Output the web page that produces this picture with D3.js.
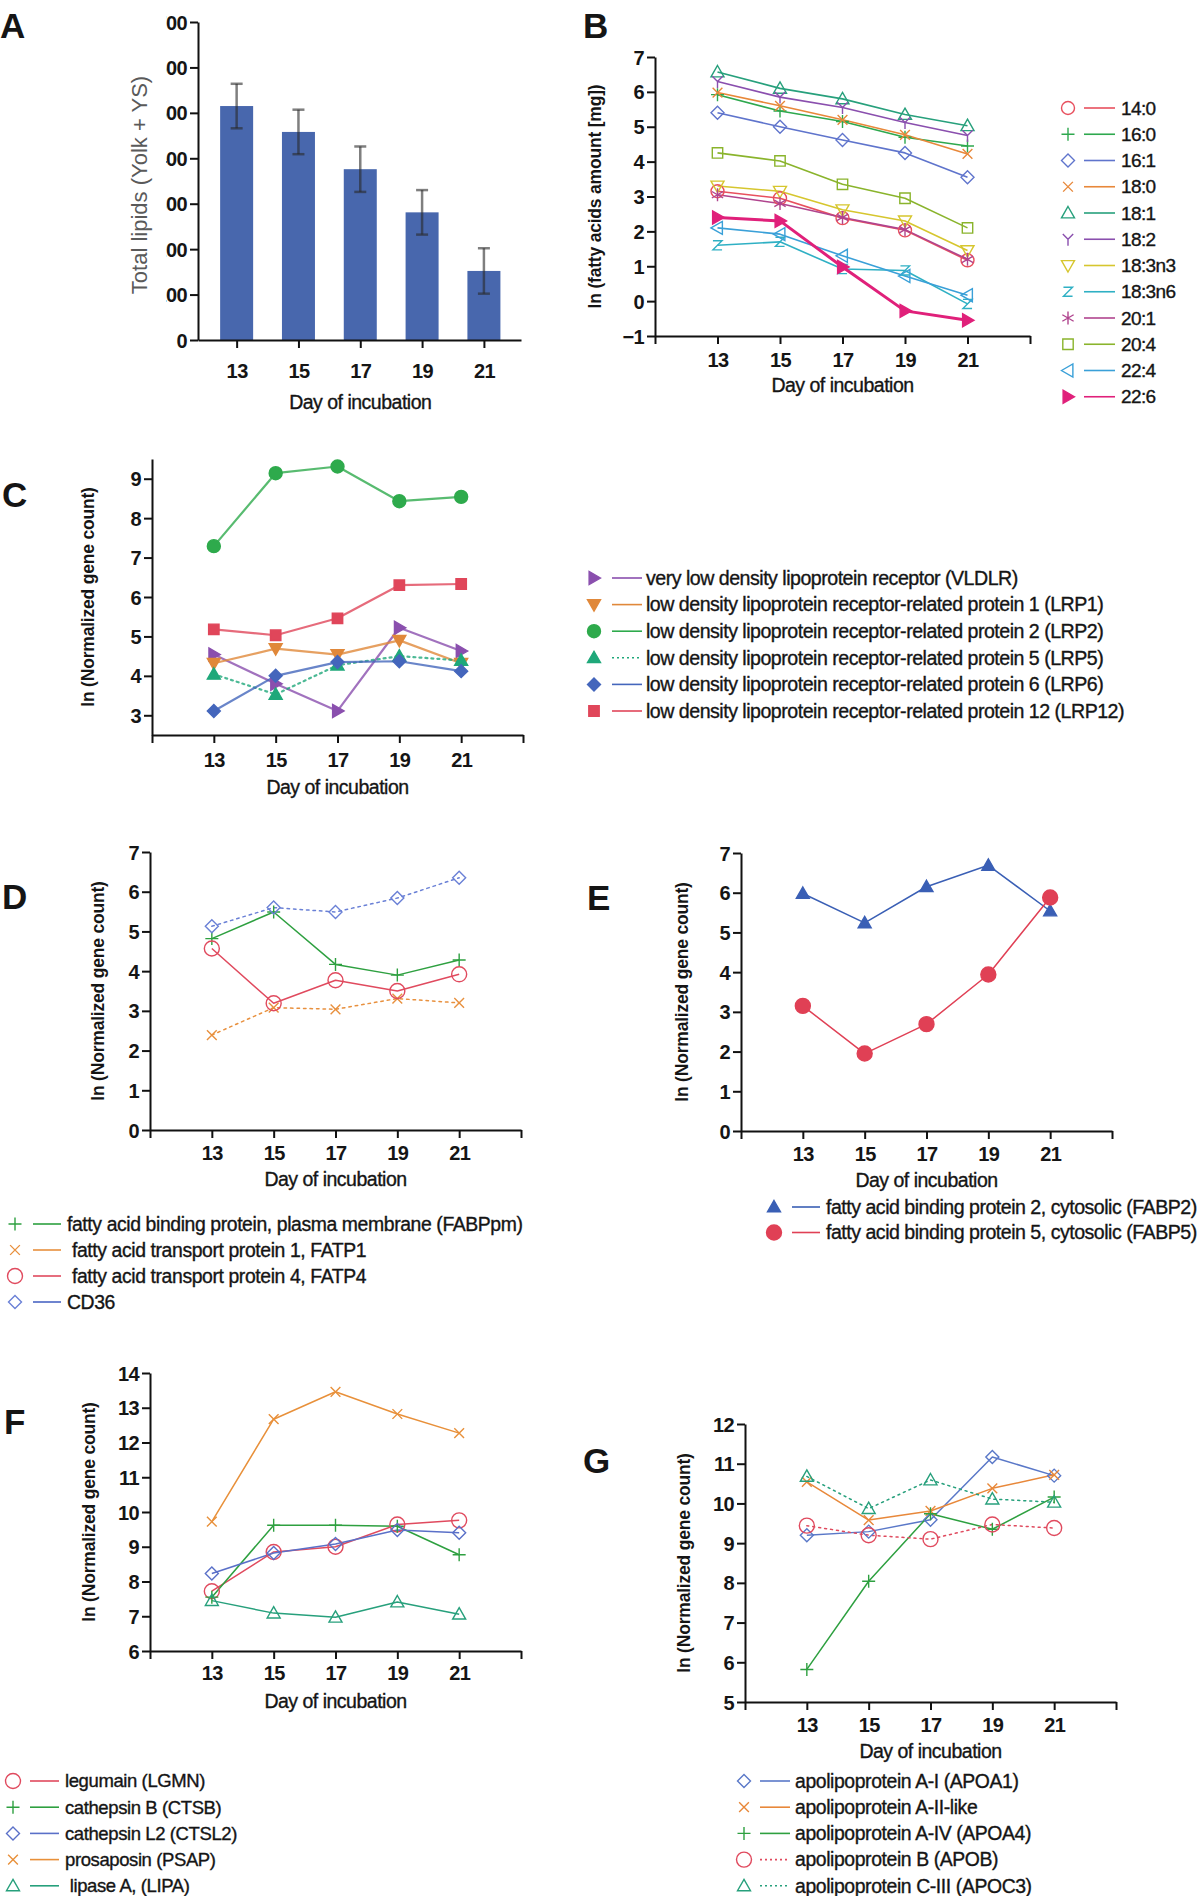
<!DOCTYPE html>
<html>
<head>
<meta charset="utf-8">
<script src="https://cdn.jsdelivr.net/npm/d3@7"></script>
<style>
  body { margin: 0; background: #fff; }
  svg text { font-family: "Liberation Sans", Arial, sans-serif; fill: #151515; }
</style>
</head>
<body>
<svg id="fig" width="1200" height="1896"></svg>
<script>
// ---- data ----
const days = [13, 15, 17, 19, 21];
const dayTicks = [11, 13, 15, 17, 19, 21, 23];

// A: total lipids
const lipidTotals = [515, 458, 376, 281, 152];
const lipidErr = [49, 49, 50, 49, 50];
const lipidTicks = [0, 100, 200, 300, 400, 500, 600, 700];

// B: fatty acids
const faLabels = ["14:0", "16:0", "16:1", "18:0", "18:1", "18:2", "18:3n3", "18:3n6", "20:1", "20:4", "22:4", "22:6"];
const faValues = [
  [3.15, 2.95, 2.38, 2.03, 1.17],
  [5.92, 5.45, 5.15, 4.70, 4.45],
  [5.40, 5.00, 4.62, 4.25, 3.55],
  [5.98, 5.60, 5.20, 4.77, 4.22],
  [6.57, 6.10, 5.80, 5.35, 5.03],
  [6.30, 5.85, 5.55, 5.12, 4.75],
  [3.30, 3.15, 2.62, 2.30, 1.45],
  [1.60, 1.70, 0.92, 0.88, -0.08],
  [3.05, 2.80, 2.40, 2.05, 1.20],
  [4.25, 4.02, 3.35, 2.95, 2.10],
  [2.10, 1.92, 1.30, 0.72, 0.17],
  [2.40, 2.30, 0.98, -0.28, -0.55]
];
const faTicks = [-1, 0, 1, 2, 3, 4, 5, 6, 7];

// C: lipoprotein receptors
const lrpLabels = [
  "very low density lipoprotein receptor (VLDLR)",
  "low density lipoprotein receptor-related protein 1 (LRP1)",
  "low density lipoprotein receptor-related protein 2 (LRP2)",
  "low density lipoprotein receptor-related protein 5 (LRP5)",
  "low density lipoprotein receptor-related protein 6 (LRP6)",
  "low density lipoprotein receptor-related protein 12 (LRP12)"
];
const lrpValues = [
  [4.54, 3.80, 3.11, 5.22, 4.63],
  [4.32, 4.69, 4.54, 4.90, 4.32],
  [7.29, 9.14, 9.31, 8.43, 8.54],
  [4.04, 3.53, 4.27, 4.50, 4.39],
  [3.11, 4.00, 4.35, 4.37, 4.12],
  [5.18, 5.03, 5.46, 6.30, 6.33]
];
const lrpTicks = [3, 4, 5, 6, 7, 8, 9];

// D: transporters
const fatLabels = [
  "fatty acid binding protein, plasma membrane (FABPpm)",
  " fatty acid transport protein 1, FATP1",
  " fatty acid transport protein 4, FATP4",
  "CD36"
];
const fatValues = [
  [4.82, 5.49, 4.17, 3.90, 4.28],
  [2.39, 3.08, 3.04, 3.31, 3.20],
  [4.57, 3.19, 3.77, 3.50, 3.92],
  [5.13, 5.60, 5.49, 5.84, 6.35]
];
const geneTicks07 = [0, 1, 2, 3, 4, 5, 6, 7];

// E: cytosolic FABPs
const fabpLabels = [
  "fatty acid binding protein 2, cytosolic (FABP2)",
  "fatty acid binding protein 5, cytosolic (FABP5)"
];
const fabpValues = [
  [5.98, 5.24, 6.15, 6.69, 5.54],
  [3.15, 1.95, 2.69, 3.94, 5.88]
];

// F: lysosomal
const lysoLabels = ["legumain (LGMN)", "cathepsin B (CTSB)", "cathepsin L2 (CTSL2)", "prosaposin (PSAP)", " lipase A, (LIPA)"];
const lysoValues = [
  [7.72, 8.85, 9.00, 9.64, 9.76],
  [7.55, 9.62, 9.62, 9.59, 8.77],
  [8.23, 8.82, 9.08, 9.48, 9.40],
  [9.72, 12.67, 13.46, 12.82, 12.27],
  [7.45, 7.09, 6.97, 7.41, 7.06]
];
const lysoTicks = [6, 7, 8, 9, 10, 11, 12, 13, 14];

// G: apolipoproteins
const apoLabels = [
  "apolipoprotein A-I (APOA1)",
  "apolipoprotein A-II-like",
  "apolipoprotein A-IV (APOA4)",
  "apolipoprotein B (APOB)",
  "apolipoprotein C-III (APOC3)"
];
const apoValues = [
  [9.20, 9.29, 9.59, 11.17, 10.70],
  [10.54, 9.58, 9.81, 10.38, 10.72],
  [5.82, 8.04, 9.74, 9.35, 10.16],
  [9.44, 9.20, 9.10, 9.47, 9.38],
  [10.68, 9.87, 10.59, 10.11, 10.03]
];
const apoTicks = [5, 6, 7, 8, 9, 10, 11, 12];

// ---- styles ----
const faStyles = [
  { color: "#e8505e", shape: "circle" },
  { color: "#2ea84e", shape: "plus" },
  { color: "#5f74cc", shape: "diamond" },
  { color: "#e8883a", shape: "cross" },
  { color: "#27a07c", shape: "triUp" },
  { color: "#8a4fae", shape: "ystar" },
  { color: "#d6c62e", shape: "triDown" },
  { color: "#2fb0c4", shape: "zed" },
  { color: "#b0448e", shape: "star" },
  { color: "#8ab42c", shape: "square" },
  { color: "#3aa0d8", shape: "triLeft" },
  { color: "#e0207a", shape: "triRight", fill: true, width: 3 }
];
const lrpStyles = [
  { color: "#8a4fae", shape: "triRight", fill: true },
  { color: "#e0883a", shape: "triDown", fill: true },
  { color: "#2eaa4c", shape: "circle", fill: true, size: 6.5 },
  { color: "#1fa87a", shape: "triUp", fill: true, dash: "2,4" },
  { color: "#4466bc", shape: "diamond", fill: true },
  { color: "#e0465a", shape: "square", fill: true }
];
const fatStyles = [
  { color: "#2ea040", shape: "plus" },
  { color: "#e8903e", shape: "cross", dash: "2.5,4" },
  { color: "#e04a5e", shape: "circle", size: 7.5 },
  { color: "#6a80d6", shape: "diamond", dash: "2.5,4", legendColor: "#4a66c4" }
];
const fabpStyles = [
  { color: "#3a5fb5", shape: "triUp", fill: true, size: 6.5 },
  { color: "#e04055", shape: "circle", fill: true, size: 7.5 }
];
const lysoStyles = [
  { color: "#e04a5e", shape: "circle", size: 7.5 },
  { color: "#2ea040", shape: "plus" },
  { color: "#5a70c8", shape: "diamond" },
  { color: "#e8903a", shape: "cross" },
  { color: "#27a07c", shape: "triUp" }
];
const apoStyles = [
  { color: "#5a78c8", shape: "diamond" },
  { color: "#e8883a", shape: "cross" },
  { color: "#2ea040", shape: "plus" },
  { color: "#e04a5e", shape: "circle", size: 7.5, dash: "2,4" },
  { color: "#27a07c", shape: "triUp", dash: "2,4" }
];

const svg = d3.select("#fig");

function markerPath(shape, s) {
  switch (shape) {
    case "circle": return `M${-s},0A${s},${s} 0 1,0 ${s},0A${s},${s} 0 1,0 ${-s},0Z`;
    case "plus": return `M${-s},0H${s}M0,${-s}V${s}`;
    case "cross": { const k = s * 0.75; return `M${-k},${-k}L${k},${k}M${-k},${k}L${k},${-k}`; }
    case "diamond": return `M0,${-s}L${s},0L0,${s}L${-s},0Z`;
    case "square": { const k = s * 0.8; return `M${-k},${-k}H${k}V${k}H${-k}Z`; }
    case "triUp": return `M0,${-s}L${s},${s * 0.75}L${-s},${s * 0.75}Z`;
    case "triDown": return `M0,${s}L${s},${-s * 0.75}L${-s},${-s * 0.75}Z`;
    case "triLeft": return `M${-s},0L${s * 0.75},${-s}L${s * 0.75},${s}Z`;
    case "triRight": return `M${s},0L${-s * 0.75},${-s}L${-s * 0.75},${s}Z`;
    case "ystar": return `M0,0V${s}M0,0L${-s * 0.8},${-s * 0.8}M0,0L${s * 0.8},${-s * 0.8}`;
    case "zed": { const k = s * 0.7; return `M${-k},${-k}H${k}L${-k},${k}H${k}`; }
    case "star": { const a = s * 0.87, b = s * 0.5; return `M0,${-s}V${s}M${-a},${-b}L${a},${b}M${-a},${b}L${a},${-b}`; }
  }
}

function drawMarker(g, st, x, y) {
  g.append("path")
    .attr("d", markerPath(st.shape, st.size || 6.5))
    .attr("transform", `translate(${x},${y})`)
    .attr("fill", st.fill ? st.color : "none")
    .attr("stroke", st.color)
    .attr("stroke-width", 1.4);
}

function panelLetter(t, x, y) {
  svg.append("text").attr("x", x).attr("y", y)
    .attr("font-size", 35).attr("font-weight", "bold").attr("fill", "#000").text(t);
}

// slightly heavier regular text, like the scanned figure
function heavy(sel) {
  return sel.style("stroke", "#151515").style("stroke-width", "0.35px");
}

function styleAxis(g) {
  g.select(".domain").attr("stroke", "#111").attr("stroke-width", 2);
  g.selectAll(".tick line").attr("stroke", "#111").attr("stroke-width", 2);
  g.selectAll(".tick text")
    .attr("font-size", 20).attr("font-weight", "bold")
    .attr("font-family", '"Liberation Sans", Arial, sans-serif')
    .style("fill", "#151515").style("letter-spacing", "-0.6px");
}

function drawAxes(parent, x, y, xTicks, yTicks, fmtX, labelOff) {
  const xa = parent.append("g").attr("transform", `translate(0,${y.range()[0]})`)
    .call(d3.axisBottom(x).tickValues(xTicks).tickSize(8).tickSizeOuter(0).tickFormat(fmtX));
  styleAxis(xa);
  xa.selectAll(".tick text").attr("y", labelOff).attr("dy", "0.35em");
  const ya = parent.append("g").attr("transform", `translate(${x.range()[0]},0)`)
    .call(d3.axisLeft(y).tickValues(yTicks).tickSize(8).tickSizeOuter(0).tickFormat(d3.format("d")));
  styleAxis(ya);
  ya.selectAll(".tick text").attr("x", -11).attr("dy", "0.35em");
  return ya;
}

function xTitle(g, x, y) {
  heavy(g.append("text").attr("x", x).attr("y", y).attr("dy", "0.35em")
    .attr("text-anchor", "middle").attr("font-size", 19.5)
    .style("letter-spacing", "-0.5px").text("Day of incubation"));
}

function yTitle(g, text, cx, cy, opts = {}) {
  g.append("text")
    .attr("transform", `translate(${cx},${cy}) rotate(-90)`)
    .attr("dy", "0.35em").attr("text-anchor", "middle")
    .attr("font-size", opts.size || 17.5)
    .attr("font-weight", opts.weight || "bold")
    .attr("font-family", opts.family || null)
    .style("fill", opts.fill || "#151515")
    .style("letter-spacing", opts.spacing || "-0.2px")
    .text(text);
}

// ---- panel A: bar chart ----
(function () {
  const g = svg.append("g");
  const x = d3.scaleLinear().domain([11.75, 22.2]).range([198, 521]);
  const y = d3.scaleLinear().domain([0, 700]).range([340, 22]);
  const bw = 33;

  g.selectAll(".bar").data(lipidTotals).enter().append("rect")
    .attr("x", (d, i) => x(days[i]) - bw / 2)
    .attr("y", d => y(d))
    .attr("width", bw)
    .attr("height", d => y(0) - y(d))
    .attr("fill", "#4867ad");

  lipidTotals.forEach((v, i) => {
    const cx = x(days[i]);
    const e = lipidErr[i];
    const eb = g.append("g").attr("stroke", "#2a2a2a").attr("stroke-opacity", 0.6).attr("stroke-width", 2.5);
    eb.append("line").attr("x1", cx).attr("x2", cx).attr("y1", y(v - e)).attr("y2", y(v + e));
    eb.append("line").attr("x1", cx - 6).attr("x2", cx + 6).attr("y1", y(v + e)).attr("y2", y(v + e));
    eb.append("line").attr("x1", cx - 6).attr("x2", cx + 6).attr("y1", y(v - e)).attr("y2", y(v - e));
  });

  // the y labels are cut on the left in the original figure
  svg.append("clipPath").attr("id", "clipA")
    .append("rect").attr("x", 166).attr("y", 0).attr("width", 400).attr("height", 400);
  const wrap = g.append("g").attr("clip-path", "url(#clipA)");
  drawAxes(wrap, x, y, days, lipidTicks, d => d, 31);

  xTitle(g, x(17), 402);
  yTitle(g, "Total lipids (Yolk + YS)", 139, 185,
    { size: 22, weight: "normal", family: '"Liberation Serif", "Times New Roman", serif', fill: "#5a5a5a", spacing: "0px" });
  panelLetter("A", 0, 38);
})();

// ---- generic line panel ----
function linePanel(p) {
  const g = svg.append("g");
  const x = d3.scaleLinear().domain([11, 23]).range(p.xRange);
  const y = d3.scaleLinear().domain(p.yDomain).range(p.yRange);
  drawAxes(g, x, y, dayTicks, p.yTicks, d => days.includes(d) ? d : "", p.tickOff || 23);
  xTitle(g, x(17), y.range()[0] + (p.titleOff || 49));
  yTitle(g, p.yTitle, p.yTitleX, (y.range()[0] + y.range()[1]) / 2);

  const line = d3.line().x((d, i) => x(days[i])).y(d => y(d));
  p.values.forEach((vals, si) => {
    const st = p.styles[si];
    g.append("path").datum(vals)
      .attr("d", line)
      .attr("fill", "none")
      .attr("stroke", st.lineColor || st.color)
      .attr("stroke-width", st.width || p.lineWidth || 1.5)
      .attr("stroke-opacity", p.lineOpacity || 1)
      .attr("stroke-dasharray", st.dash || null)
      .attr("stroke-linecap", st.dash ? "round" : "butt")
      .attr("stroke-linejoin", "round");
  });
  p.values.forEach((vals, si) => {
    const st = p.styles[si];
    vals.forEach((v, i) => drawMarker(g, st, x(days[i]), y(v)));
  });

  const L = p.legend;
  p.labels.forEach((lab, si) => {
    const st = p.styles[si];
    const ly = L.y0 + si * L.dy;
    drawMarker(g, st, L.mx, ly);
    g.append("line").attr("x1", L.l1).attr("x2", L.l2).attr("y1", ly).attr("y2", ly)
      .attr("stroke", st.legendColor || st.lineColor || st.color)
      .attr("stroke-width", 1.6)
      .attr("stroke-dasharray", L.dashed && st.dash ? "2,3" : null);
    heavy(g.append("text").attr("x", L.tx).attr("y", ly).attr("dy", "0.35em")
      .attr("font-size", L.size)
      .style("white-space", "pre")
      .style("letter-spacing", L.spacing || "-0.3px")
      .text(lab));
  });
  panelLetter(p.letter, p.letterX, p.letterY);
}

linePanel({
  letter: "B", letterX: 583, letterY: 38,
  xRange: [655, 1030], yDomain: [-1, 7], yRange: [336, 57], yTicks: faTicks,
  yTitle: "ln (fatty acids amount [mg])", yTitleX: 595, tickOff: 24, titleOff: 49,
  values: faValues, styles: faStyles, labels: faLabels, lineWidth: 1.6,
  legend: { mx: 1068, l1: 1084, l2: 1115, tx: 1121, y0: 108, dy: 26.25, size: 19, spacing: "-0.6px" }
});

linePanel({
  letter: "C", letterX: 2, letterY: 507,
  xRange: [152, 523], yDomain: [2.5, 9.5], yRange: [735, 459], yTicks: lrpTicks,
  yTitle: "ln (Normalized gene count)", yTitleX: 88, tickOff: 25, titleOff: 52,
  values: lrpValues, styles: lrpStyles, labels: lrpLabels, lineWidth: 2.2, lineOpacity: 0.8,
  legend: { mx: 594, l1: 612, l2: 642, tx: 646, y0: 578, dy: 26.6, size: 19.6, spacing: "-0.5px", dashed: true }
});

linePanel({
  letter: "D", letterX: 2, letterY: 909,
  xRange: [150, 521], yDomain: [0, 7], yRange: [1130, 852], yTicks: geneTicks07,
  yTitle: "ln (Normalized gene count)", yTitleX: 98,
  values: fatValues, styles: fatStyles, labels: fatLabels, lineWidth: 1.5,
  legend: { mx: 15, l1: 33, l2: 61, tx: 67, y0: 1224, dy: 26, size: 19.4, spacing: "-0.4px" }
});

linePanel({
  letter: "E", letterX: 587, letterY: 910,
  xRange: [741, 1112], yDomain: [0, 7], yRange: [1131, 853], yTicks: geneTicks07,
  yTitle: "ln (Normalized gene count)", yTitleX: 682, titleOff: 49,
  values: fabpValues, styles: fabpStyles, labels: fabpLabels, lineWidth: 1.5,
  legend: { mx: 774, l1: 792, l2: 820, tx: 826, y0: 1207, dy: 25.5, size: 19.6, spacing: "-0.5px" }
});

linePanel({
  letter: "F", letterX: 4, letterY: 1434,
  xRange: [150, 521], yDomain: [6, 14], yRange: [1651, 1373], yTicks: lysoTicks,
  yTitle: "ln (Normalized gene count)", yTitleX: 89, tickOff: 22, titleOff: 50,
  values: lysoValues, styles: lysoStyles, labels: lysoLabels, lineWidth: 1.5,
  legend: { mx: 13, l1: 30, l2: 59, tx: 65, y0: 1781, dy: 26.2, size: 18.5, spacing: "-0.4px" }
});

linePanel({
  letter: "G", letterX: 583, letterY: 1473,
  xRange: [745, 1116], yDomain: [5, 12], yRange: [1702, 1424], yTicks: apoTicks,
  yTitle: "ln (Normalized gene count)", yTitleX: 684,
  values: apoValues, styles: apoStyles, labels: apoLabels, lineWidth: 1.5,
  legend: { mx: 744, l1: 760, l2: 790, tx: 795, y0: 1781, dy: 26.2, size: 19.4, spacing: "-0.4px", dashed: true }
});
</script>
</body>
</html>
